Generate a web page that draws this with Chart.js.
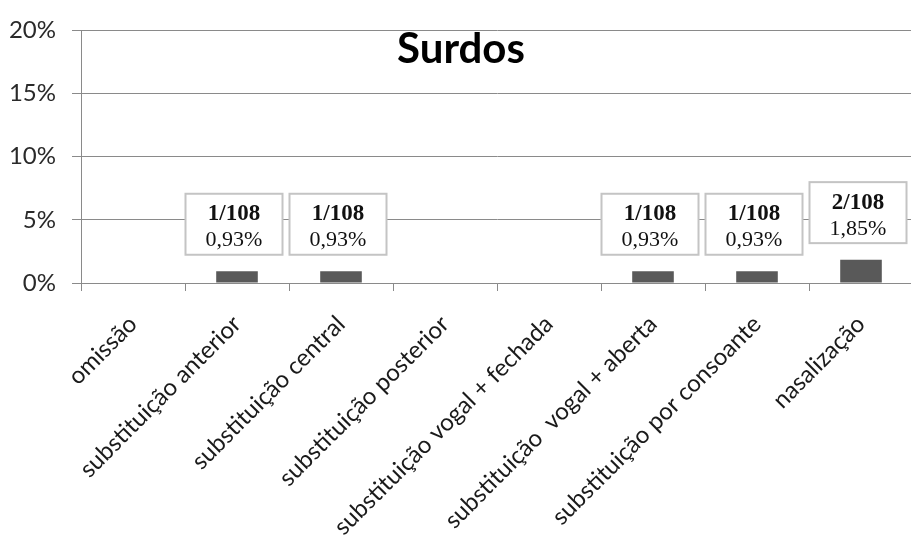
<!DOCTYPE html>
<html>
<head>
<meta charset="utf-8">
<script src="https://cdn.jsdelivr.net/npm/chart.js@4/dist/chart.umd.min.js"></script>
<style>
  html, body { margin: 0; padding: 0; background: #fff; overflow: hidden; }
  #wrap { width: 911px; height: 536px; overflow: hidden; position: relative; }
  canvas { display: block; }
</style>
</head>
<body>
<div id="wrap"><canvas id="c" width="920" height="536"></canvas></div>
<script>
// Vowel error types among deaf speakers
const categories = [
  'omissão',
  'substituição anterior',
  'substituição central',
  'substituição posterior',
  'substituição vogal + fechada',
  'substituição  vogal + aberta',
  'substituição por consoante',
  'nasalização'
];
const occurrences = [0, 1, 1, 0, 0, 1, 1, 2];
const totalItems = 108;
const percentages = [0, 0.93, 0.93, 0, 0, 0.93, 0.93, 1.85];
const yTicks = [0, 5, 10, 15, 20];

const GRID = '#8a8a8a';
const SANS = 'Lato, "Liberation Sans", sans-serif';

// value boxes: "n/108" over "x,xx%"
const boxLabels = {
  id: 'boxLabels',
  afterDatasetsDraw(chart) {
    const ctx = chart.ctx;
    const meta = chart.getDatasetMeta(0);
    meta.data.forEach((bar, i) => {
      if (!percentages[i]) return;
      const w = 97, h = 61;
      const cx = bar.x - 3;
      const cy = bar.y - 47;
      ctx.save();
      ctx.fillStyle = '#fff';
      ctx.fillRect(cx - w / 2, cy - h / 2, w, h);
      ctx.strokeStyle = '#c4c4c4';
      ctx.lineWidth = 2;
      ctx.strokeRect(cx - w / 2, cy - h / 2, w, h);
      ctx.fillStyle = '#111';
      ctx.textAlign = 'center';
      ctx.textBaseline = 'alphabetic';
      ctx.font = 'bold 23px "Liberation Serif", serif';
      ctx.fillText(occurrences[i] + '/' + totalItems, cx, cy - 4);
      ctx.font = '22px "Liberation Serif", serif';
      ctx.fillText(percentages[i].toFixed(2).replace('.', ',') + '%', cx, cy + 22);
      ctx.restore();
    });
  }
};

// chart heading drawn inside the plot area
const heading = {
  id: 'heading',
  afterDraw(chart) {
    const ctx = chart.ctx;
    ctx.save();
    ctx.fillStyle = '#000';
    ctx.font = 'bold 42px ' + SANS;
    ctx.textAlign = 'center';
    ctx.textBaseline = 'alphabetic';
    ctx.fillText('Surdos', 461, 63);
    ctx.restore();
  }
};

new Chart(document.getElementById('c'), {
  type: 'bar',
  data: {
    labels: categories,
    datasets: [{
      data: percentages,
      backgroundColor: '#595959',
      borderWidth: 0,
      barPercentage: 0.4,
      categoryPercentage: 1
    }]
  },
  options: {
    responsive: false,
    animation: false,
    layout: { padding: { top: 30, right: 7, left: 0, bottom: 0 } },
    plugins: { legend: { display: false }, tooltip: { enabled: false }, title: { display: false } },
    scales: {
      x: {
        afterFit(scale) { scale.height = 253; },
        grid: { offset: true, drawOnChartArea: false, color: GRID, tickLength: 8 },
        border: { color: GRID },
        ticks: {
          autoSkip: false, maxRotation: 45, minRotation: 45,
          color: '#1a1a1a', padding: 19,
          font: { family: SANS, size: 24 }
        }
      },
      y: {
        min: 0, max: 20,
        afterFit(scale) { scale.width = 81; },
        afterBuildTicks(scale) { scale.ticks = yTicks.map(v => ({ value: v })); },
        grid: { color: GRID, tickLength: 9 },
        border: { color: GRID },
        ticks: {
          color: '#2a2a2a', padding: 16,
          font: { family: SANS, size: 24 },
          callback: v => v + '%'
        }
      }
    }
  },
  plugins: [boxLabels, heading]
});
</script>
</body>
</html>
